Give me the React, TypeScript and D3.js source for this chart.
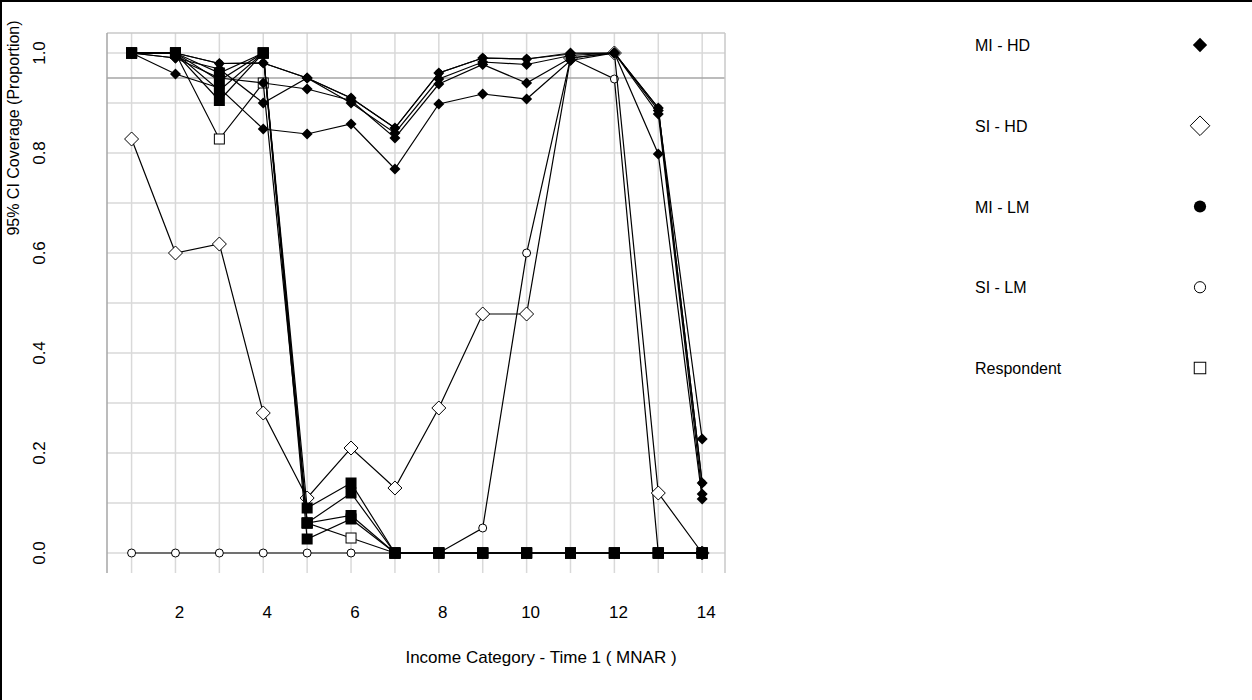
import * as d3 from 'd3';

// income categories 1..14
const categories = [1, 2, 3, 4, 5, 6, 7, 8, 9, 10, 11, 12, 13, 14];

// MI - HD (filled diamonds), several replications
const miHdA = [1.0, 1.0, 0.979, 0.98, 0.95, 0.91, 0.85, 0.96, 0.99, 0.988, 1.0, 1.0, 0.89, 0.14];
const miHdB = [1.0, 0.99, 0.968, 0.9, 0.95, 0.9, 0.84, 0.948, 0.982, 0.977, 0.995, 1.0, 0.878, 0.118];
const miHdC = [1.0, 0.99, 0.95, 0.94, 0.928, 0.905, 0.83, 0.938, 0.977, 0.94, 0.99, 1.0, 0.885, 0.228];
const miHdD = [1.0, 0.958, 0.93, 0.848, 0.838, 0.858, 0.768, 0.898, 0.918, 0.908, 0.985, 1.0, 0.798, 0.108];

// SI - HD (open diamonds)
const siHd = [0.828, 0.6, 0.618, 0.28, 0.11, 0.21, 0.13, 0.29, 0.478, 0.478, 0.99, 1.0, 0.12, 0.0];

// MI - LM (filled circles), mostly hidden under the diamonds
const miLm = [1.0, 1.0, 0.979, 0.98, 0.95, 0.91, 0.85, 0.96, 0.99, 0.988, 0.998, 1.0, 0.89, 0.14];

// SI - LM (open circles)
const siLm = [0, 0, 0, 0, 0, 0, 0, 0, 0.05, 0.6, 0.99, 0.948, 0, 0];

// Respondent (open squares)
const respondent = [1.0, 1.0, 0.828, 0.94, 0.06, 0.03, 0, 0, 0, 0, 0, 0, 0, 0];

// filled square series
const sqA = [1.0, 1.0, 0.96, 1.0, 0.09, 0.14, 0, 0, 0, 0, 0, 0, 0, 0];
const sqB = [1.0, 1.0, 0.945, 1.0, 0.06, 0.12, 0, 0, 0, 0, 0, 0, 0, 0];
const sqC = [1.0, 1.0, 0.925, 1.0, 0.06, 0.075, 0, 0, 0, 0, 0, 0, 0, 0];
const sqD = [1.0, 1.0, 0.905, 1.0, 0.028, 0.068, 0, 0, 0, 0, 0, 0, 0, 0];

const yTicks = [0, 0.2, 0.4, 0.6, 0.8, 1.0];
const yGrid = [0, 0.1, 0.2, 0.3, 0.4, 0.5, 0.6, 0.7, 0.8, 0.9, 1.0];
const xTicks = [2, 4, 6, 8, 10, 12, 14];
const refLine = 0.95;

const legendItems = ['MI - HD', 'SI - HD', 'MI - LM', 'SI - LM', 'Respondent'];

const FONT = '"Liberation Sans", Arial, sans-serif';

type Shape = 'fdiamond' | 'odiamond' | 'fcircle' | 'ocircle' | 'osquare' | 'fsquare';

function Marker({ shape, cx, cy, k = 1 }: { shape: Shape; cx: number; cy: number; k?: number }) {
  switch (shape) {
    case 'fdiamond': {
      const h = 5.5 * k;
      return <path d={`M${cx},${cy - h}L${cx + h},${cy}L${cx},${cy + h}L${cx - h},${cy}Z`} fill="#000" />;
    }
    case 'odiamond': {
      const h = 7 * k;
      return <path d={`M${cx},${cy - h}L${cx + h},${cy}L${cx},${cy + h}L${cx - h},${cy}Z`} fill="#fff" stroke="#000" strokeWidth={1} />;
    }
    case 'fcircle':
      return <circle cx={cx} cy={cy} r={3.8 * k} fill="#000" />;
    case 'ocircle':
      return <circle cx={cx} cy={cy} r={4 * k} fill="#fff" stroke="#000" strokeWidth={1} />;
    case 'osquare': {
      const h = 5 * k;
      return <rect x={cx - h} y={cy - h} width={2 * h} height={2 * h} fill="#fff" stroke="#000" strokeWidth={1} />;
    }
    default:
      return <rect x={cx - 5.5} y={cy - 5.5} width={11} height={11} fill="#000" />;
  }
}

export default function App() {
  const width = 1252;
  const height = 700;
  const left = 107;
  const right = 725;
  const top = 33;
  const bottom = 573;

  const x = d3.scaleLinear().domain([0.44, 14.52]).range([left, right]);
  const y = d3.scaleLinear().domain([-0.04, 1.04]).range([bottom, top]);

  const line = d3
    .line<number>()
    .x((_, i) => x(categories[i]))
    .y((d) => y(d));

  // draw order matters: later series sit on top
  const series: { values: number[]; shape: Shape }[] = [
    { values: siLm, shape: 'ocircle' },
    { values: siHd, shape: 'odiamond' },
    { values: respondent, shape: 'osquare' },
    { values: miLm, shape: 'fcircle' },
    { values: miHdD, shape: 'fdiamond' },
    { values: miHdC, shape: 'fdiamond' },
    { values: miHdB, shape: 'fdiamond' },
    { values: miHdA, shape: 'fdiamond' },
    { values: sqD, shape: 'fsquare' },
    { values: sqC, shape: 'fsquare' },
    { values: sqB, shape: 'fsquare' },
    { values: sqA, shape: 'fsquare' },
  ];

  const legendShapes: Shape[] = ['fdiamond', 'odiamond', 'fcircle', 'ocircle', 'osquare'];
  const legendScale = [1.3, 1.4, 1.6, 1.4, 1.15];
  const legendY = d3.scalePoint<string>().domain(legendItems).range([45, 368]);

  return (
    <svg
      width={width}
      height={height}
      style={{ position: 'absolute', left: 0, top: 0, background: '#fff' }}
      fontFamily={FONT}
    >
      <rect x={0} y={0} width={width} height={height} fill="#fff" />
      {/* outer frame */}
      <line x1={1} y1={0} x2={1} y2={height} stroke="#000" strokeWidth={2} />
      <line x1={0} y1={1} x2={width} y2={1} stroke="#000" strokeWidth={2} />

      {/* grid */}
      {categories.map((c) => (
        <line key={`vg${c}`} x1={x(c)} x2={x(c)} y1={top} y2={bottom} stroke="#d9d9d9" strokeWidth={1.5} />
      ))}
      {yGrid.map((v) => (
        <line key={`hg${v}`} x1={left} x2={right} y1={y(v)} y2={y(v)} stroke="#d9d9d9" strokeWidth={1.5} />
      ))}
      <line x1={left} x2={right} y1={y(refLine)} y2={y(refLine)} stroke="#a6a6a6" strokeWidth={1.5} />
      <line x1={left} x2={right} y1={top} y2={top} stroke="#c8c8c8" strokeWidth={1.5} />
      <line x1={right} x2={right} y1={top} y2={bottom} stroke="#c8c8c8" strokeWidth={1.5} />
      <line x1={left} x2={left} y1={top} y2={bottom} stroke="#a6a6a6" strokeWidth={1.5} />

      {/* series */}
      {series.map((s, si) => (
        <g key={`s${si}`}>
          <path d={line(s.values) ?? ''} fill="none" stroke="#000" strokeWidth={1.2} />
          {s.values.map((v, i) => (
            <Marker key={i} shape={s.shape} cx={x(categories[i])} cy={y(v)} />
          ))}
        </g>
      ))}

      {/* y axis labels */}
      {yTicks.map((v) => (
        <text
          key={`yt${v}`}
          transform={`translate(45,${y(v)}) rotate(-90)`}
          textAnchor="middle"
          fontSize={17}
          fill="#000"
        >
          {v.toFixed(1)}
        </text>
      ))}
      <text transform="translate(19,128) rotate(-90)" textAnchor="middle" fontSize={16} fill="#000">
        95% CI Coverage (Proportion)
      </text>

      {/* x axis labels */}
      {xTicks.map((v) => (
        <text key={`xt${v}`} x={x(v) + 4} y={618} textAnchor="middle" fontSize={17} fill="#000">
          {v}
        </text>
      ))}
      <text x={541} y={663} textAnchor="middle" fontSize={17} fill="#000">
        Income Category - Time 1 ( MNAR )
      </text>

      {/* legend */}
      {legendItems.map((name, i) => (
        <g key={name}>
          <text x={975} y={(legendY(name) ?? 0) + 6} fontSize={16} fill="#000">
            {name}
          </text>
          <Marker shape={legendShapes[i]} cx={1200} cy={legendY(name) ?? 0} k={legendScale[i]} />
        </g>
      ))}
    </svg>
  );
}
